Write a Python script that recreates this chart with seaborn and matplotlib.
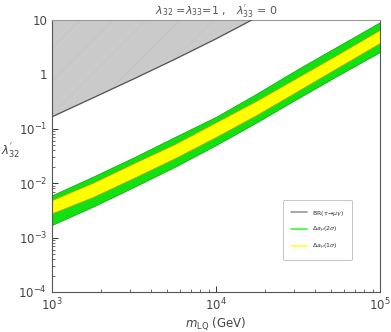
import numpy as np
import matplotlib
matplotlib.use("Agg")
import matplotlib.pyplot as plt
from matplotlib.lines import Line2D
import seaborn as sns
import pandas as pd

# values (log-log)
m_band = [1e3, 10**3.25, 10**3.5, 10**3.75, 1e4, 10**4.25, 10**4.5, 10**4.75, 1e5]
green_hi = [6.0e-3, 1.32e-2, 3.0e-2, 7.1e-2, 0.166, 0.447, 1.26, 3.39, 9.1]
green_lo = [1.7e-3, 3.7e-3, 8.5e-3, 2.0e-2, 5.0e-2, 0.132, 0.363, 0.977, 2.57]
yellow_hi = [4.9e-3, 1.02e-2, 2.34e-2, 5.25e-2, 0.132, 0.331, 0.891, 2.40, 6.6]
yellow_lo = [2.8e-3, 5.6e-3, 1.26e-2, 2.9e-2, 7.1e-2, 0.182, 0.50, 1.38, 3.8]

m_br = [1e3, 10**3.25, 10**3.5, 10**3.75, 1e4, 10**4.25, 10**4.5]
lam_br = [0.166, 0.37, 0.83, 1.9, 4.5, 11.2, 28.0]

sns.set_theme(style="ticks")
plt.rcParams['font.family'] = ['DejaVu Sans']
plt.rcParams['mathtext.fontset'] = 'dejavusans'
plt.rcParams['hatch.linewidth'] = 0.3

fig = plt.figure(figsize=(3.91, 3.32), dpi=100)
ax = fig.add_axes([0.133, 0.1205, 0.839, 0.8195])

# excluded region above BR(tau -> mu gamma)
ax.fill_between(m_br, lam_br, 100, color='#cacaca', lw=0, zorder=1)
ax.fill_between(m_br, lam_br, 100, facecolor='none', edgecolor='#bebebe',
                hatch='/', lw=0, zorder=1.1)
br = pd.DataFrame({'m': m_br, 'lam': lam_br})
sns.lineplot(data=br, x='m', y='lam', ax=ax, color='#555555', lw=0.9, zorder=3)

# Delta a_mu bands
ax.fill_between(m_band, green_lo, green_hi, color='#11e011', lw=0.5,
                edgecolor='#11a011', zorder=2)
ax.fill_between(m_band, yellow_lo, yellow_hi, color='#ffff00', lw=0.5,
                edgecolor='#c89a10', zorder=2.5)

ax.set_xscale('log')
ax.set_yscale('log')
ax.set_xlim(1e3, 1e5)
ax.set_ylim(1e-4, 10)

ax.set_yticks([1e-4, 1e-3, 1e-2, 1e-1, 1, 10])
ax.set_yticklabels(['$10^{-4}$', '$10^{-3}$', '$10^{-2}$', '$10^{-1}$', '1', '10'])
ax.set_xticks([1e3, 1e4, 1e5])
ax.set_xticklabels(['$10^3$', '$10^4$', '$10^5$'])

ax.tick_params(axis='both', which='both', direction='in', colors='#333333',
               labelcolor='#444444', labelsize=8.5, top=False, right=False)
ax.tick_params(which='major', length=4, width=0.7)
ax.tick_params(which='minor', length=2, width=0.5)
for s in ax.spines.values():
    s.set_color('#555555')
    s.set_linewidth(0.8)
ax.spines['top'].set_color('#999999')

ax.set_xlabel(r'$m_{\rm LQ}$ (GeV)', fontsize=8.5, color='#444444', labelpad=1)
ax.set_ylabel(r"$\lambda^{'}_{32}$", fontsize=8.5, color='#444444', rotation=0)
ax.yaxis.set_label_coords(-0.125, 0.485)
ax.set_title(r"$\lambda_{32}$ =$\lambda_{33}$=1 ,   $\lambda^{'}_{33}$ = 0",
             fontsize=8, color='#555555', pad=2)

handles = [Line2D([], [], color='#9a9a9a', lw=1.2),
           Line2D([], [], color='#33ff33', lw=1.2),
           Line2D([], [], color='#ffff33', lw=1.2)]
labels = [r'BR($\tau\!\to\!\mu\gamma$)', r'$\Delta a_\mu(2\sigma)$',
          r'$\Delta a_\mu(1\sigma)$']
leg = ax.legend(handles, labels, loc='lower left', bbox_to_anchor=(0.704, 0.118),
                fontsize=4.5, frameon=True, fancybox=True, handlelength=2.5,
                borderpad=1.3, labelspacing=1.1, borderaxespad=0)
leg.get_frame().set_edgecolor('#aaaaaa')
leg.get_frame().set_linewidth(0.6)
for t in leg.get_texts():
    t.set_color('#333333')

fig.savefig('out.png', dpi=100)
